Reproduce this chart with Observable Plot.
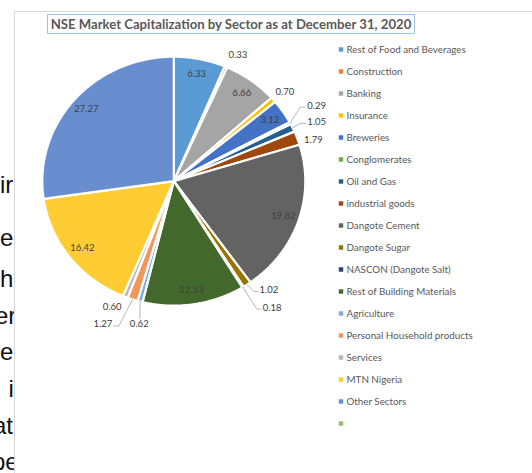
<!DOCTYPE html>
<html><head><meta charset="utf-8">
<script src="https://cdn.jsdelivr.net/npm/d3@7"></script>
<script src="https://cdn.jsdelivr.net/npm/@observablehq/plot@0.6"></script>
<style>
html,body{margin:0;padding:0;background:#fff;}
#page{position:relative;width:532px;height:473px;overflow:hidden;background:#fff;}
.frag{position:absolute;font-family:"Liberation Sans",Arial,sans-serif;font-size:24px;line-height:24px;color:#111;white-space:nowrap;}
#topfrag{position:absolute;left:15px;top:-19px;font-family:"Liberation Sans",Arial,sans-serif;font-weight:bold;font-size:20px;line-height:24px;color:#2E5C9A;white-space:nowrap;}
#panel{position:absolute;left:14px;top:11px;width:560px;height:500px;background:#fff;border-left:1px solid #d9d9d9;border-top:1px solid #d9d9d9;}
#pie{position:absolute;left:0;top:0;}
#legend{position:absolute;left:330px;top:0;}
#titlebox{position:absolute;left:47px;top:14px;width:366px;height:18px;border:1px solid #9DC3E6;background:#fff;text-align:center;}
#title{font-family:Lato,"Open Sans",sans-serif;font-weight:bold;font-size:12.5px;line-height:18px;color:#595959;white-space:nowrap;}
</style></head>
<body><div id="page">
<div id="topfrag">at End December 2020</div>
<div id="frags"></div>
<div id="panel"></div>
<div id="pie"></div>
<div id="legend"></div>
<div id="titlebox"><span id="title"></span></div>
</div>
<script>
// ---------------- data ----------------
const chartTitle = "NSE Market Capitalization by Sector as at December 31, 2020";
const categories = ["Rest of Food and Beverages", "Construction", "Banking", "Insurance", "Breweries",
  "Conglomerates", "Oil and Gas", "industrial goods", "Dangote Cement", "Dangote Sugar",
  "NASCON (Dangote Salt)", "Rest of Building Materials", "Agriculture", "Personal Household products",
  "Services", "MTN Nigeria", "Other Sectors", ""];
const values = [6.33, 0.33, 6.66, 0.70, 3.12, 0.29, 1.05, 1.79, 19.82, 1.02, 0.18, 12.53, 0.62, 1.27, 0.60, 16.42, 27.27, 0];
const colors = ["#5B9BD5", "#ED7D31", "#A5A5A5", "#FFC000", "#4472C4", "#70AD47", "#255E91", "#9E480E",
  "#636363", "#997300", "#264478", "#43682B", "#7CAFDD", "#F1975A", "#B7B7B7", "#FFCD33", "#698ED0", "#8CC168"];
const backgroundTopText = "at End December 2020";
const backgroundSideText = ["ir", "e", "h", "er", "e", "i", "at", "pe"];

// ---------------- layout (not data) ----------------
const CX = 173.3, CY = 180.7, RX = 131.5, RY = 124.5; // pie centre & radii in px
const PIE_W = 330, H = 473;
const insideR = 0.88;
// outside labels: label centre offset from slice edge point (px), leader polyline offsets (px)
const outside = {
  "Construction": {l: [12, -11.5]},
  "Insurance": {l: [11.5, -7.6]},
  "Conglomerates": {l: [26.6, -17.5], leader: [[0, 0], [10, -16], [15, -16]]},
  "Oil and Gas": {l: [24.1, -5.6], leader: [[0, 0], [8, -4.5], [13, -4.5]]},
  "industrial goods": {l: [16.1, 1.4]},
  "Dangote Sugar": {l: [21.9, 5.5], leader: [[0, 0], [7, 7], [11, 7]]},
  "NASCON (Dangote Salt)": {l: [29.3, 20.5], leader: [[0, 0], [14, 22], [18, 22]]},
  "Agriculture": {l: [-0.8, 22.7], leader: [[0, 0], [-0.2, 17]]},
  "Personal Household products": {l: [-29.8, 24.8], leader: [[0, 0], [-13.7, 26.5], [-18.7, 26.5]]},
  "Services": {l: [-13.2, 10.5]}
};
const sideTops = [187, 240, 281, 318, 354, 391, 428, 464];
const sideLefts = [0, 0, 0, -5, 0, 8.5, -7, -8];

// ---------------- background fragments ----------------
const frags = document.getElementById("frags");
backgroundSideText.forEach((t, i) => {
  const d = document.createElement("div");
  d.className = "frag";
  d.textContent = t;
  d.style.left = sideLefts[i] + "px";
  d.style.top = (sideTops[i] - 14) + "px";
  frags.appendChild(d);
});
const tf = document.getElementById("topfrag");
tf.textContent = backgroundTopText;
{ const w = tf.getBoundingClientRect().width; tf.style.fontSize = (20 * 233 / w) + "px"; }

// title, fitted to the reference's width
const titleEl = document.getElementById("title");
titleEl.textContent = chartTitle;
{ const w = titleEl.getBoundingClientRect().width; titleEl.style.fontSize = (12.5 * 361 / w) + "px"; }

// ---------------- pie geometry ----------------
const rows = categories.map((name, i) => ({name, value: values[i]}));
const arcs = d3.pie().sort(null).value(d => d.value)(rows);
const slicePts = [];
const labelRows = [];
const leaderPts = [];
const px = dx => dx / RX, py = dy => -dy / RY;
arcs.forEach(a => {
  if (a.data.value <= 0) return;
  const name = a.data.name;
  slicePts.push({name, x: 0, y: 0});
  const n = Math.max(2, Math.ceil((a.endAngle - a.startAngle) / (Math.PI / 360)));
  for (let k = 0; k <= n; k++) {
    const t = a.startAngle + (a.endAngle - a.startAngle) * k / n;
    slicePts.push({name, x: Math.sin(t), y: Math.cos(t)});
  }
  const mid = (a.startAngle + a.endAngle) / 2;
  const ex = Math.sin(mid), ey = Math.cos(mid);
  const text = a.data.value.toFixed(2);
  const o = outside[name];
  if (o) {
    labelRows.push({x: ex + px(o.l[0]), y: ey + py(o.l[1]), text});
    if (o.leader) o.leader.forEach(p => leaderPts.push({id: name, x: ex + px(p[0]), y: ey + py(p[1])}));
  } else {
    labelRows.push({x: insideR * ex, y: insideR * ey, text});
  }
});

const pie = Plot.plot({
  width: PIE_W, height: H, margin: 0,
  x: {domain: [-CX / RX, (PIE_W - CX) / RX], axis: null},
  y: {domain: [-(H - CY) / RY, CY / RY], axis: null},
  color: {domain: categories, range: colors},
  style: {background: "transparent", fontFamily: "Lato, 'Open Sans', sans-serif", fontSize: "9.5px", overflow: "visible"},
  marks: [
    Plot.line(slicePts, {x: "x", y: "y", z: "name", fill: "name", stroke: "white", strokeWidth: 2.2, strokeLinejoin: "round", curve: "linear-closed"}),
    Plot.line(leaderPts, {x: "x", y: "y", z: "id", stroke: "#a6a6a6", strokeWidth: 0.8}),
    Plot.text(labelRows, {x: "x", y: "y", text: "text", fill: "#404040"})
  ]
});
document.getElementById("pie").appendChild(pie);

// ---------------- legend ----------------
const legendRows = categories.map(name => ({name}));
const legend = Plot.plot({
  width: 202, height: H, margin: 0,
  y: {type: "point", domain: categories, range: [49, 423], padding: 0, axis: null},
  color: {domain: categories, range: colors},
  style: {background: "transparent", fontFamily: "Lato, 'Open Sans', sans-serif", fontSize: "9.8px"},
  marks: [
    Plot.dot(legendRows, {y: "name", fill: "name", symbol: "square", r: 2.5, frameAnchor: "left", dx: 10.5}),
    Plot.text(legendRows, {y: "name", text: "name", frameAnchor: "left", textAnchor: "start", dx: 16, fill: "#595959"})
  ]
});
document.getElementById("legend").appendChild(legend);
</script>
</body></html>
